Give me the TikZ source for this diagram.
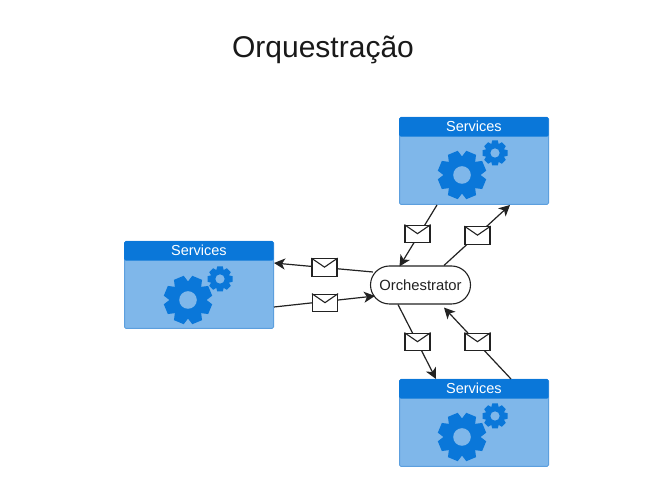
\documentclass[tikz,border=0pt]{standalone}
\usepackage{fontspec}
\setmainfont{Liberation Sans}
\usetikzlibrary{shapes.misc,arrows.meta}
\definecolor{svcbody}{HTML}{7FB7EA}
\definecolor{svchead}{HTML}{0A77D9}
\definecolor{svcline}{HTML}{5C9FDE}
\definecolor{inkline}{HTML}{222222}
\tikzset{
  svcbox/.style={draw=svcline,line width=1pt,fill=svcbody,rounded corners=1.5pt,minimum width=149pt,minimum height=87pt,inner sep=0pt,anchor=north west},
  svchd/.style={fill=svchead,rounded corners=1.5pt,minimum width=149.5pt,minimum height=19.5pt,inner sep=0pt,anchor=north west,text=white,text depth=2pt,font=\fontsize{14.5}{16}\selectfont},
  orchbox/.style={draw=inkline,line width=1.1pt,fill=white,rounded rectangle,minimum width=100pt,minimum height=38pt,inner sep=0pt,font=\fontsize{14.8}{16}\selectfont,text=inkline},
  mailbox/.style={draw=inkline,line width=1.2pt,fill=white,minimum width=25pt,minimum height=17.5pt,inner sep=0pt},
  flow/.style={draw=inkline,line width=1.2pt,-{Stealth[length=11pt,width=11pt,inset=3pt]}},
  titletext/.style={font=\fontsize{30}{34}\selectfont,text=black!90}
}
% gear: centre x y, outer radius, hole radius, rotation
\newcommand{\cogwheel}[5]{%
  \begin{scope}[shift={(#1,#2)},x=1pt,y=1pt]
    \fill[svchead] (0,0) circle ({0.78*#3});
    \foreach \a in {0,45,...,315}{%
      \fill[svchead,rotate=\a+#5] ({0.7*#3},{-0.3*#3}) -- ({#3},{-0.22*#3}) -- ({#3},{0.22*#3}) -- ({0.7*#3},{0.3*#3}) -- cycle;
    }
    \fill[svcbody] (0,0) circle (#4);
  \end{scope}}
% envelope contents drawn inside a named mailbox node
\newcommand{\mailflap}[1]{%
  \draw[inkline,line width=1.1pt] (#1.north west) -- ([yshift=-9pt]#1.north) -- (#1.north east);}
\begin{document}
\begin{tikzpicture}[x=1pt,y=1pt]
\useasboundingbox[fill=white] (0,0) rectangle (664,494);

\node[titletext] (title) at (323,444) {Orquestração};

% service boxes
\node[svcbox] (top) at (399,377) {};
\node[svchd] (tophd) at (399,377) {Services};
\cogwheel{462}{319}{24}{8.8}{22.5}
\cogwheel{495}{341}{12.5}{4.6}{0}

\node[svcbox] (left) at (124,253) {};
\node[svchd] (lefthd) at (124,253) {Services};
\cogwheel{188}{194}{24}{8.8}{22.5}
\cogwheel{220}{215}{12.5}{4.6}{0}

\node[svcbox] (bot) at (399,115) {};
\node[svchd] (bothd) at (399,115) {Services};
\cogwheel{462}{57}{24}{8.8}{22.5}
\cogwheel{495}{78}{12.5}{4.6}{0}

\node[orchbox] (orch) at (420.5,209) {Orchestrator};

% connectors
\draw[flow] ([xshift=38pt]top.south west) -- ([xshift=-21pt,yshift=-1pt]orch.north);
\draw[flow] ([xshift=23.5pt]orch.north) -- ([xshift=111pt]top.south west);
\draw[flow] ([xshift=3pt,yshift=13pt]orch.west) -- ([yshift=-22pt]left.north east);
\draw[flow] ([yshift=-66pt]left.north east) -- ([xshift=5pt,yshift=-11pt]orch.west);
\draw[flow] ([xshift=-22.5pt]orch.south) -- ([xshift=37pt]bot.north west);
\draw[flow] ([xshift=112pt]bot.north west) -- ([xshift=23.5pt,yshift=-3pt]orch.south);

% envelopes
\node[mailbox] (m1) at (417.5,260) {}; \mailflap{m1}
\node[mailbox] (m2) at (477.5,258.5) {}; \mailflap{m2}
\node[mailbox] (m3) at (324.5,226.5) {}; \mailflap{m3}
\node[mailbox] (m4) at (325,191) {}; \mailflap{m4}
\node[mailbox] (m5) at (417.5,152) {}; \mailflap{m5}
\node[mailbox] (m6) at (477.5,152) {}; \mailflap{m6}
\end{tikzpicture}
\end{document}
